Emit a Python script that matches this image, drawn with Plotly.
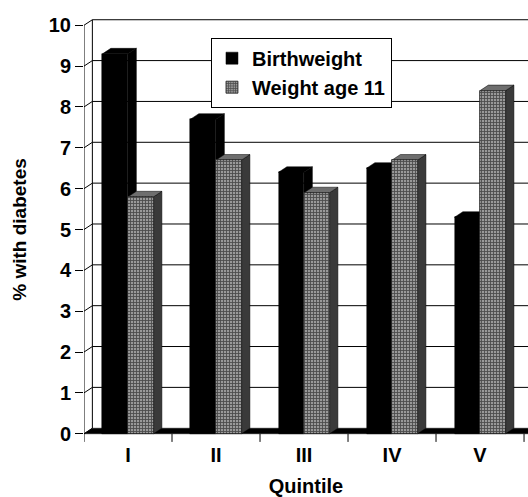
import plotly.graph_objects as go

categories = ["I", "II", "III", "IV", "V"]
birthweight = [9.3, 7.7, 6.4, 6.5, 5.3]
weight_age11 = [5.8, 6.7, 5.9, 6.7, 8.4]
y_ticks = [0, 1, 2, 3, 4, 5, 6, 7, 8, 9, 10]

FONT = "Arial, Liberation Sans, sans-serif"
DX, DY = 0.095, 0.135          # pseudo-3D depth in data units
BW = 0.29                      # bar width
XMIN, XMAX = -0.5, 4.545
xs = list(range(len(categories)))

fig = go.Figure()
fig.add_trace(go.Bar(
    x=xs, y=birthweight, name="Birthweight", width=BW, offset=-BW,
    marker=dict(color="black", line=dict(color="black", width=0.5))))
fig.add_trace(go.Bar(
    x=xs, y=weight_age11, name="Weight age 11", width=BW, offset=0,
    marker=dict(color="#808080", line=dict(color="#222", width=0.8),
                pattern=dict(shape="+", fgcolor="#000000", bgcolor="#999999",
                             size=3, solidity=0.5))))

shapes = []
def line(x0, y0, x1, y1, w=1, color="black"):
    shapes.append(dict(type="line", xref="x", yref="y", x0=x0, y0=y0, x1=x1, y1=y1,
                       line=dict(color=color, width=w), layer="below"))

def poly(pts, fill, lc=None):
    p = "M " + " L ".join(f"{x},{y}" for x, y in pts) + " Z"
    shapes.append(dict(type="path", xref="x", yref="y", path=p, fillcolor=fill,
                       line=dict(color=lc or fill, width=0.5), layer="below"))

# back wall gridlines + left wall diagonals
for t in y_ticks:
    line(XMIN, t, XMIN + DX, t + DY)
    if t > 0:
        line(XMIN + DX, t + DY, XMAX, t + DY)
# left wall verticals
line(XMIN, 0, XMIN, y_ticks[-1])
line(XMIN + DX, DY, XMIN + DX, y_ticks[-1] + DY)
# floor
poly([(XMIN, 0), (XMAX, 0), (XMAX + DX, DY), (XMIN + DX, DY)], "black")
# category boundary ticks
for k in range(len(categories) + 1):
    line(XMIN + k, 0, XMIN + k, -0.2)

# bar side / top faces
for series, off, side_c, top_c in [(birthweight, -BW, "black", "black"),
                                   (weight_age11, 0, "#3a3a3a", "#6e6e6e")]:
    for x, v in zip(xs, series):
        x0 = x + off
        x1 = x0 + BW
        poly([(x1, 0), (x1 + DX, DY), (x1 + DX, v + DY), (x1, v)], side_c, "black")
        poly([(x0, v), (x0 + DX, v + DY), (x1 + DX, v + DY), (x1, v)], top_c, "black")

fig.update_layout(
    width=528, height=497,
    margin=dict(l=84, r=0, t=13, b=51, autoexpand=False),
    paper_bgcolor="white", plot_bgcolor="white",
    barmode="overlay", bargap=0,
    shapes=shapes,
    font=dict(family=FONT, color="black"),
    showlegend=True,
    legend=dict(x=0.286, y=0.943, xanchor="left", yanchor="top",
                bgcolor="white", bordercolor="black", borderwidth=1,
                font=dict(family=FONT, size=20, color="black", weight="bold"),
                itemwidth=30, tracegroupgap=0),
    xaxis=dict(range=[XMIN, XMAX], tickvals=xs, ticktext=categories,
               showgrid=False, zeroline=False, showline=False, ticks="",
               automargin=False, ticklabelstandoff=-5,
               tickfont=dict(family=FONT, size=20, weight="bold"),
               title=dict(text="Quintile", standoff=16,
                          font=dict(family=FONT, size=20, weight="bold"))),
    yaxis=dict(range=[-0.3, 10.3], tickvals=y_ticks,
               showgrid=False, zeroline=False, showline=False,
               ticks="outside", ticklen=8, tickcolor="black", tickwidth=1,
               automargin=False,
               tickfont=dict(family=FONT, size=20, weight="bold"),
               title=dict(text="% with diabetes", standoff=17,
                          font=dict(family=FONT, size=19, weight="bold"))),
)

fig.write_html("out.html", config={"displayModeBar": False},
               post_script="document.body.style.margin='0';document.body.style.padding='0';")
